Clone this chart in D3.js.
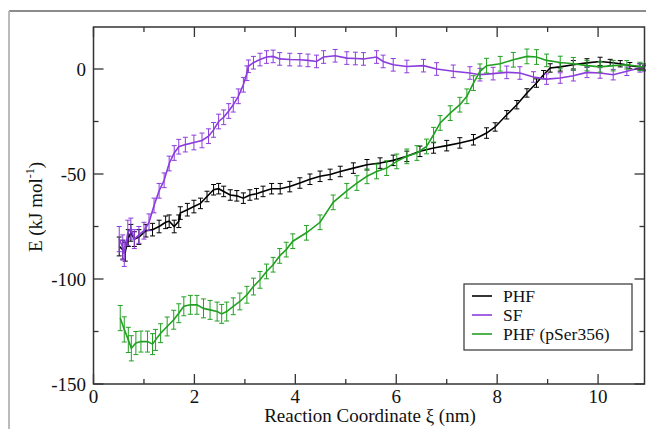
<!DOCTYPE html>
<html><head><meta charset="utf-8">
<script src="https://cdn.jsdelivr.net/npm/d3@7"></script>
<style>body{margin:0;background:#fff}svg{display:block}
svg text{font-family:"Liberation Serif","DejaVu Serif","Times New Roman",serif;}</style>
</head><body>
<script>
// ---- data ----
const seriesNames = ["PHF", "SF", "PHF (pSer356)"];
const seriesColors = ["#000000", "#8c3cdc", "#22a022"];

const phfX = [0.51,0.58,0.63,0.69,0.74,0.81,0.9,1.04,1.17,1.3,1.43,1.5,1.6,1.69,1.72,1.86,1.99,2.12,2.25,2.38,2.48,2.58,2.71,2.84,2.97,3.1,3.23,3.36,3.53,3.7,3.89,4.09,4.29,4.49,4.69,4.89,5.15,5.42,5.68,5.94,6.21,6.47,6.74,7.0,7.26,7.53,7.79,7.96,8.19,8.39,8.59,8.78,8.92,9.05,9.25,9.51,9.78,10.04,10.24,10.44,10.63,10.83,10.92];
const phfY = [-84.5,-86,-87,-80.5,-78,-81,-80,-77,-76.5,-75,-73,-72.5,-75,-72.5,-68.6,-67,-65.5,-64,-60.7,-57.5,-57,-58.3,-60,-60.4,-61.5,-60,-59.4,-58.3,-57,-57,-56,-54.3,-52.5,-51.1,-50.2,-48.8,-47.2,-45.6,-44.8,-43.5,-41.6,-39.2,-37.6,-36.5,-35.2,-33.7,-30.5,-27.6,-21.8,-17,-11.4,-6.7,-2.7,0.5,1,2,2.9,3.6,3.1,2.5,1.6,1,0.5];
const phfErr = [4.5,4.5,4.5,4,4,3.5,3.5,3,3,3,3,3,3,3,3,3,3,2.5,2.5,2.5,2.5,2.5,2.5,2.5,2.5,2.5,2.5,2.5,2.5,2.5,2.5,2.5,2.5,2.5,2.5,2.5,2.5,2.5,2.5,2.5,2.5,2.5,2.5,2.5,2.5,2.5,2.5,2,2,2,2,2,2,2,2,2,2,2,1.5,1.5,1.5,1.5,1];

const sfX = [0.51,0.58,0.61,0.68,0.74,0.81,0.9,1.0,1.1,1.2,1.3,1.4,1.5,1.6,1.69,1.82,1.99,2.15,2.28,2.38,2.48,2.58,2.68,2.77,2.87,2.97,3.04,3.07,3.17,3.3,3.43,3.56,3.69,3.89,4.09,4.25,4.42,4.56,4.79,5.02,5.19,5.35,5.61,5.74,5.94,6.21,6.54,6.8,7.13,7.46,7.66,7.92,8.19,8.45,8.72,8.98,9.25,9.51,9.78,10.04,10.3,10.57,10.83,10.92];
const sfY = [-81,-85,-88,-78,-76,-81,-79,-77,-73,-65,-58,-53,-45,-40,-37,-36,-35,-34,-32,-29,-25,-23,-20,-17,-13,-7.5,-2,1.3,3,4.5,5.7,6,4.8,4.5,4.4,4.1,3.6,5.7,6.3,5.2,5,4.8,5.7,3.6,2,1.2,1.6,0,-1.1,-1.9,-2.7,-2.2,-1.6,-1.9,-3.8,-4.8,-4.3,-3.2,-1.6,-1.9,-2.7,-1.1,0.5,0.5];
const sfErr = [6,6,6,6,5,4.5,4,4,4,3.5,3.5,3.5,3.5,3.5,3.5,3.5,3.5,3.5,3.5,3.5,3.5,3.5,3.5,3.5,3.5,3.5,3.5,3,3,3,3,3,3,3,3,3,3,3,3,3,3,3,3,3,3,3,3,3,3,3,3,3,3,3,2.5,2.5,2.5,2.5,2.5,2.5,2.5,2,2,1.5];

const pserX = [0.53,0.61,0.69,0.75,0.84,0.94,1.07,1.17,1.23,1.33,1.46,1.59,1.69,1.79,1.92,2.05,2.18,2.31,2.45,2.54,2.64,2.77,2.9,3.04,3.17,3.3,3.43,3.56,3.69,3.82,3.95,4.22,4.49,4.75,5.02,5.22,5.42,5.61,5.81,6.01,6.21,6.41,6.6,6.74,6.87,7.07,7.26,7.4,7.53,7.66,7.79,8.06,8.32,8.59,8.78,8.98,9.25,9.51,9.78,10.04,10.3,10.57,10.83,10.92];
const pserY = [-118.6,-124,-129,-133,-130.5,-129.8,-129.8,-131,-129,-125.8,-122.6,-119.4,-116.3,-113,-112.3,-112.3,-114,-114.7,-115.5,-116.6,-115.5,-113,-110.7,-107.5,-103.6,-100.4,-96.4,-93.2,-89,-86,-82,-78,-73,-63.5,-58,-54.3,-51.1,-48.8,-47.2,-44,-41.6,-40,-36.9,-31.3,-25.7,-21,-17,-13,-6.7,-1.1,1.6,2.5,4.4,6,5.7,4.1,3.1,2.5,1.6,1,1.6,2,1.2,1];
const pserErr = [6,6,6,6,5.5,5,5,5,5,4.5,4.5,4.5,4.5,4.5,4.5,4.5,4.5,4.5,4.5,4.5,4.5,4,4,4,4,4,3.5,3.5,3.5,3.5,3.5,3.5,3.5,3.5,3.5,3.5,3.5,3.5,3.5,3.5,3.5,3.5,3.5,3.5,3.5,3.5,3.5,3.5,3.5,3.5,3.5,3.5,3.5,3.5,3.5,3,3,3,2.5,2.5,2.5,2,2,1.5];

const xTicks = [0, 2, 4, 6, 8, 10];
const xMinor = [1, 3, 5, 7, 9];
const yTicks = [-150, -100, -50, 0];
const yMinor = [-125, -75, -25];

// ---- layout ----
const W = 646, H = 429;
const L = 93.5, R = 644.5, T = 27, B = 384;

const svg = d3.select("body").append("svg").attr("width", W).attr("height", H);
svg.append("rect").attr("width", W).attr("height", H).attr("fill", "#fff");

// outer frame (top and left)
svg.append("line").attr("x1", 9).attr("x2", W).attr("y1", 11).attr("y2", 11).attr("stroke", "#666").attr("stroke-width", 1.5);
svg.append("line").attr("x1", 9).attr("x2", 9).attr("y1", 11).attr("y2", H).attr("stroke", "#bbb").attr("stroke-width", 2);

const x = d3.scaleLinear().domain([0, 10.92]).range([L, R]);
const y = d3.scaleLinear().domain([-150, 20]).range([B, T]);

const series = [
  {name: seriesNames[0], color: seriesColors[0], xs: phfX, ys: phfY, es: phfErr},
  {name: seriesNames[1], color: seriesColors[1], xs: sfX, ys: sfY, es: sfErr},
  {name: seriesNames[2], color: seriesColors[2], xs: pserX, ys: pserY, es: pserErr}
];

const plot = svg.append("g");
series.forEach(s => {
  const pts = s.xs.map((v, i) => ({x: v, y: s.ys[i], e: s.es[i]}));
  const g = plot.append("g").attr("stroke", s.color).attr("fill", "none");
  g.selectAll("line.eb").data(pts).join("line").attr("class", "eb")
    .attr("x1", d => x(d.x)).attr("x2", d => x(d.x))
    .attr("y1", d => y(d.y - d.e)).attr("y2", d => y(d.y + d.e)).attr("stroke-width", 1);
  g.selectAll("line.ct").data(pts).join("line").attr("class", "ct")
    .attr("x1", d => x(d.x) - 2.5).attr("x2", d => x(d.x) + 2.5)
    .attr("y1", d => y(d.y + d.e)).attr("y2", d => y(d.y + d.e)).attr("stroke-width", 1);
  g.selectAll("line.cb").data(pts).join("line").attr("class", "cb")
    .attr("x1", d => x(d.x) - 2.5).attr("x2", d => x(d.x) + 2.5)
    .attr("y1", d => y(d.y - d.e)).attr("y2", d => y(d.y - d.e)).attr("stroke-width", 1);
  g.append("path").datum(pts)
    .attr("d", d3.line().x(d => x(d.x)).y(d => y(d.y)))
    .attr("stroke-width", 1.6);
});

// axes frame
const axc = "#333";
svg.append("rect").attr("x", L).attr("y", T).attr("width", R - L).attr("height", B - T)
  .attr("fill", "none").attr("stroke", axc).attr("stroke-width", 1.5);

function ticksX(vals, len) {
  svg.append("g").selectAll("line").data(vals).join("line")
    .attr("x1", d => x(d)).attr("x2", d => x(d)).attr("y1", B).attr("y2", B - len)
    .attr("stroke", axc).attr("stroke-width", 1.3);
  svg.append("g").selectAll("line").data(vals).join("line")
    .attr("x1", d => x(d)).attr("x2", d => x(d)).attr("y1", T).attr("y2", T + len)
    .attr("stroke", axc).attr("stroke-width", 1.3);
}
function ticksY(vals, len) {
  svg.append("g").selectAll("line").data(vals).join("line")
    .attr("x1", L).attr("x2", L + len).attr("y1", d => y(d)).attr("y2", d => y(d))
    .attr("stroke", axc).attr("stroke-width", 1.3);
  svg.append("g").selectAll("line").data(vals).join("line")
    .attr("x1", R).attr("x2", R - len).attr("y1", d => y(d)).attr("y2", d => y(d))
    .attr("stroke", axc).attr("stroke-width", 1.3);
}
ticksX(xTicks, 10); ticksX(xMinor, 5);
ticksY(yTicks, 10); ticksY(yMinor, 5);

svg.append("g").selectAll("text").data(xTicks).join("text")
  .attr("x", d => x(d)).attr("y", 403).attr("text-anchor", "middle")
  .attr("font-size", 19).attr("fill", "#111").text(d => d);
svg.append("g").selectAll("text").data(yTicks).join("text")
  .attr("x", 86).attr("y", d => y(d) + 6.5).attr("text-anchor", "end")
  .attr("font-size", 19).attr("fill", "#111").text(d => d);

svg.append("text").attr("x", 370).attr("y", 422).attr("text-anchor", "middle")
  .attr("font-size", 19).attr("fill", "#111")
  .text("Reaction Coordinate ξ (nm)");

const yt = svg.append("text").attr("transform", "translate(42,207) rotate(-90)")
  .attr("text-anchor", "middle").attr("font-size", 19).attr("fill", "#111");
yt.append("tspan").text("E (kJ mol");
yt.append("tspan").attr("font-size", 12).attr("dy", -8).text("-1");
yt.append("tspan").attr("dy", 8).text(")");

// legend
const lg = svg.append("g");
lg.append("rect").attr("x", 464).attr("y", 284).attr("width", 168).attr("height", 66)
  .attr("fill", "#fff").attr("stroke", axc).attr("stroke-width", 1.2);
series.forEach((s, i) => {
  const yy = 296 + i * 19;
  lg.append("line").attr("x1", 472).attr("x2", 492).attr("y1", yy).attr("y2", yy)
    .attr("stroke", s.color).attr("stroke-width", 1.6);
  lg.append("text").attr("x", 503).attr("y", yy + 5.5).attr("font-size", 17.5)
    .attr("fill", "#111").text(s.name);
});
</script>
</body></html>
